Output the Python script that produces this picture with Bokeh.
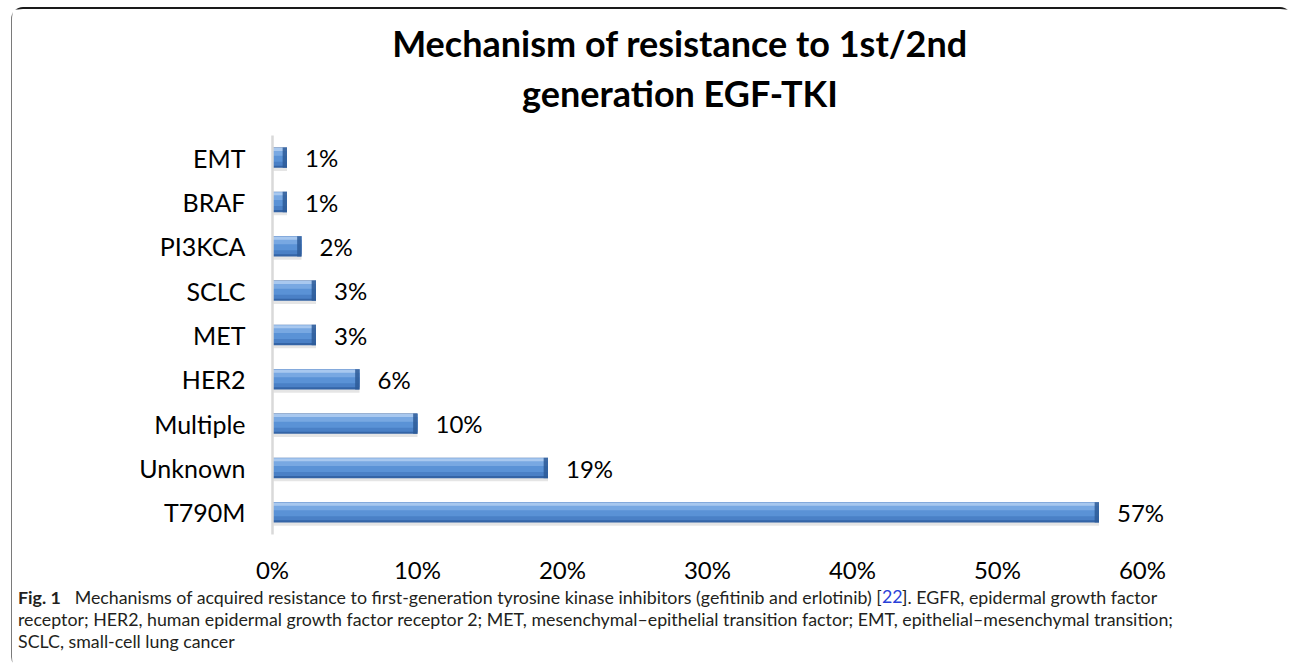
from bokeh.plotting import figure
from bokeh.layouts import column
from bokeh.models import Range1d, FactorRange, FixedTicker, NumeralTickFormatter, ColumnDataSource
from bokeh.transform import dodge
from bokeh.embed import file_html
from bokeh.resources import INLINE
from bokeh.core.properties import value

# ---- data ----
categories = ["T790M", "Unknown", "Multiple", "HER2", "MET", "SCLC", "PI3KCA", "BRAF", "EMT"]
shares = [0.57, 0.19, 0.10, 0.06, 0.03, 0.03, 0.02, 0.01, 0.01]
share_labels = ["57%", "19%", "10%", "6%", "3%", "3%", "2%", "1%", "1%"]
x_ticks = [0.0, 0.1, 0.2, 0.3, 0.4, 0.5, 0.6]

title_lines = ["Mechanism of resistance to 1st/2nd", "generation EGF-TKI"]
caption_fig = "Fig. 1"
caption_1a = "Mechanisms of acquired resistance to first-generation tyrosine kinase inhibitors (gefitinib and erlotinib) ["
caption_ref = "22"
caption_1b = "]. EGFR, epidermal growth factor"
caption_2 = "receptor; HER2, human epidermal growth factor receptor 2; MET, mesenchymal\u2013epithelial transition factor; EMT, epithelial\u2013mesenchymal transition;"
caption_3 = "SCLC, small-cell lung cancer"

W = 1280
MX, MY = 11, 7          # outer margin of the framed panel
BX, BY = 1.5, 2         # border widths
OX = MX + BX            # page x of canvas origin
Y_TITLE = MY + BY       # page y of title figure
H_TITLE = 135 - Y_TITLE
H_MAIN = 451
Y_CAP = 135 + H_MAIN
H_CAP = 667 - Y_CAP
FONT = "Lato"
CAPFONT = "Lato"


def text_fig(h):
    f = figure(width=W, height=h, x_range=Range1d(0, W), y_range=Range1d(h, 0),
               min_border=0, x_axis_location=None, y_axis_location=None,
               toolbar_location=None, output_backend="svg", title=None, frame_align=False)
    f.outline_line_color = None
    f.grid.visible = False
    f.background_fill_color = "white"
    f.border_fill_color = "white"
    return f


# ---- title ----
tf = text_fig(H_TITLE)
tf.text(x=[680 - OX, 680 - OX], y=[42 - Y_TITLE, 92 - Y_TITLE], text=title_lines,
        text_align="center", text_baseline="alphabetic",
        text_font=value(FONT), text_font_style="bold", text_font_size="36px",
        text_color="#000000")

# ---- main chart ----
src = ColumnDataSource(dict(cat=categories, val=shares, lab=share_labels,
                            cap=[v - 0.003 for v in shares]))

p = figure(width=W, height=H_MAIN, output_backend="svg", toolbar_location=None, title=None,
           y_range=FactorRange(*categories), x_range=Range1d(0, 0.64), frame_align=False,
           min_border_left=round(272 - OX), min_border_right=92, min_border_top=0,
           min_border_bottom=H_MAIN - 400)
p.outline_line_color = None
p.xgrid.grid_line_color = None
p.ygrid.grid_line_color = None
p.background_fill_color = "white"
p.border_fill_color = "white"

# shadow
p.hbar(y=dodge("cat", -0.08, range=p.y_range), left=0.0005, right="val", height=0.44, source=src,
       fill_color="#000000", fill_alpha=0.10, line_color=None)
# layered gradient body
p.hbar(y="cat", left=0, right="val", height=0.46, source=src,
       fill_color="#3464A6", line_color=None)
p.hbar(y=dodge("cat", 0.02, range=p.y_range), left=0, right="val", height=0.40, source=src,
       fill_color="#4A80C6", line_color=None)
p.hbar(y=dodge("cat", 0.06, range=p.y_range), left=0, right="val", height=0.30, source=src,
       fill_color="#5A92D6", line_color=None)
p.hbar(y=dodge("cat", 0.13, range=p.y_range), left=0, right="val", height=0.17, source=src,
       fill_color="#78A8E2", line_color=None)
p.hbar(y=dodge("cat", 0.185, range=p.y_range), left=0, right="val", height=0.07, source=src,
       fill_color="#A8C8EF", line_color=None)
# right end cap
p.hbar(y="cat", left="cap", right="val", height=0.46, source=src,
       fill_color="#2D5A98", fill_alpha=0.85, line_color=None)

# value labels
p.text(x="val", y="cat", text="lab", source=src, x_offset=18,
       text_align="left", text_baseline="middle",
       text_font=value(FONT), text_font_size="24px", text_color="#000000")

# axes
p.yaxis.axis_line_color = "#D9D9D9"
p.yaxis.axis_line_width = 2.5
p.yaxis.major_tick_line_color = None
p.yaxis.minor_tick_line_color = None
p.yaxis.major_tick_out = 0
p.yaxis.major_tick_in = 0
p.yaxis.major_label_standoff = 27
p.yaxis.major_label_text_font = FONT
p.yaxis.major_label_text_font_size = "25px"
p.yaxis.major_label_text_color = "#000000"

p.xaxis.axis_line_color = None
p.xaxis.major_tick_line_color = None
p.xaxis.minor_tick_line_color = None
p.xaxis.major_tick_out = 0
p.xaxis.major_tick_in = 0
p.xaxis.ticker = FixedTicker(ticks=x_ticks)
p.xaxis.formatter = NumeralTickFormatter(format="0%")
p.xaxis.major_label_standoff = 20
p.xaxis.major_label_text_line_height = 1.0
p.xaxis.major_label_text_font = FONT
p.xaxis.major_label_text_font_size = "24px"
p.xaxis.major_label_text_color = "#000000"

# ---- caption ----
cf = text_fig(H_CAP)
cap_kw = dict(text_baseline="alphabetic", text_font=value(CAPFONT), text_font_size="17.8px")
L1, L2, L3 = 596, 618, 640
XR = 882
cf.text(x=[18 - OX], y=[L1 - Y_CAP], text=[caption_fig], text_font_style="bold",
        text_color="#231F20", **cap_kw)
cf.text(x=[XR - OX], y=[L1 - Y_CAP], text=[caption_1a], text_align="right",
        text_color="#231F20", **cap_kw)
cf.text(x=[XR - OX], y=[L1 - Y_CAP], text=[caption_ref], text_color="#2A3FD8", **cap_kw)
cf.text(x=[XR + 20 - OX], y=[L1 - Y_CAP], text=[caption_1b], text_color="#231F20", **cap_kw)
cf.text(x=[18 - OX, 18 - OX], y=[L2 - Y_CAP, L3 - Y_CAP], text=[caption_2, caption_3],
        text_color="#231F20", **cap_kw)

layout = column(tf, p, cf, spacing=0)
layout.styles = {"margin-left": f"{MX}px", "margin-top": f"{MY}px",
                 "border-top": f"{BY}px solid #1a1a1a", "border-left": f"{BX}px solid #7a7a7a",
                 "border-top-left-radius": "12px", "border-top-right-radius": "12px",
                 "border-bottom-left-radius": "10px"}

open("out.html", "w").write(file_html(layout, INLINE))
